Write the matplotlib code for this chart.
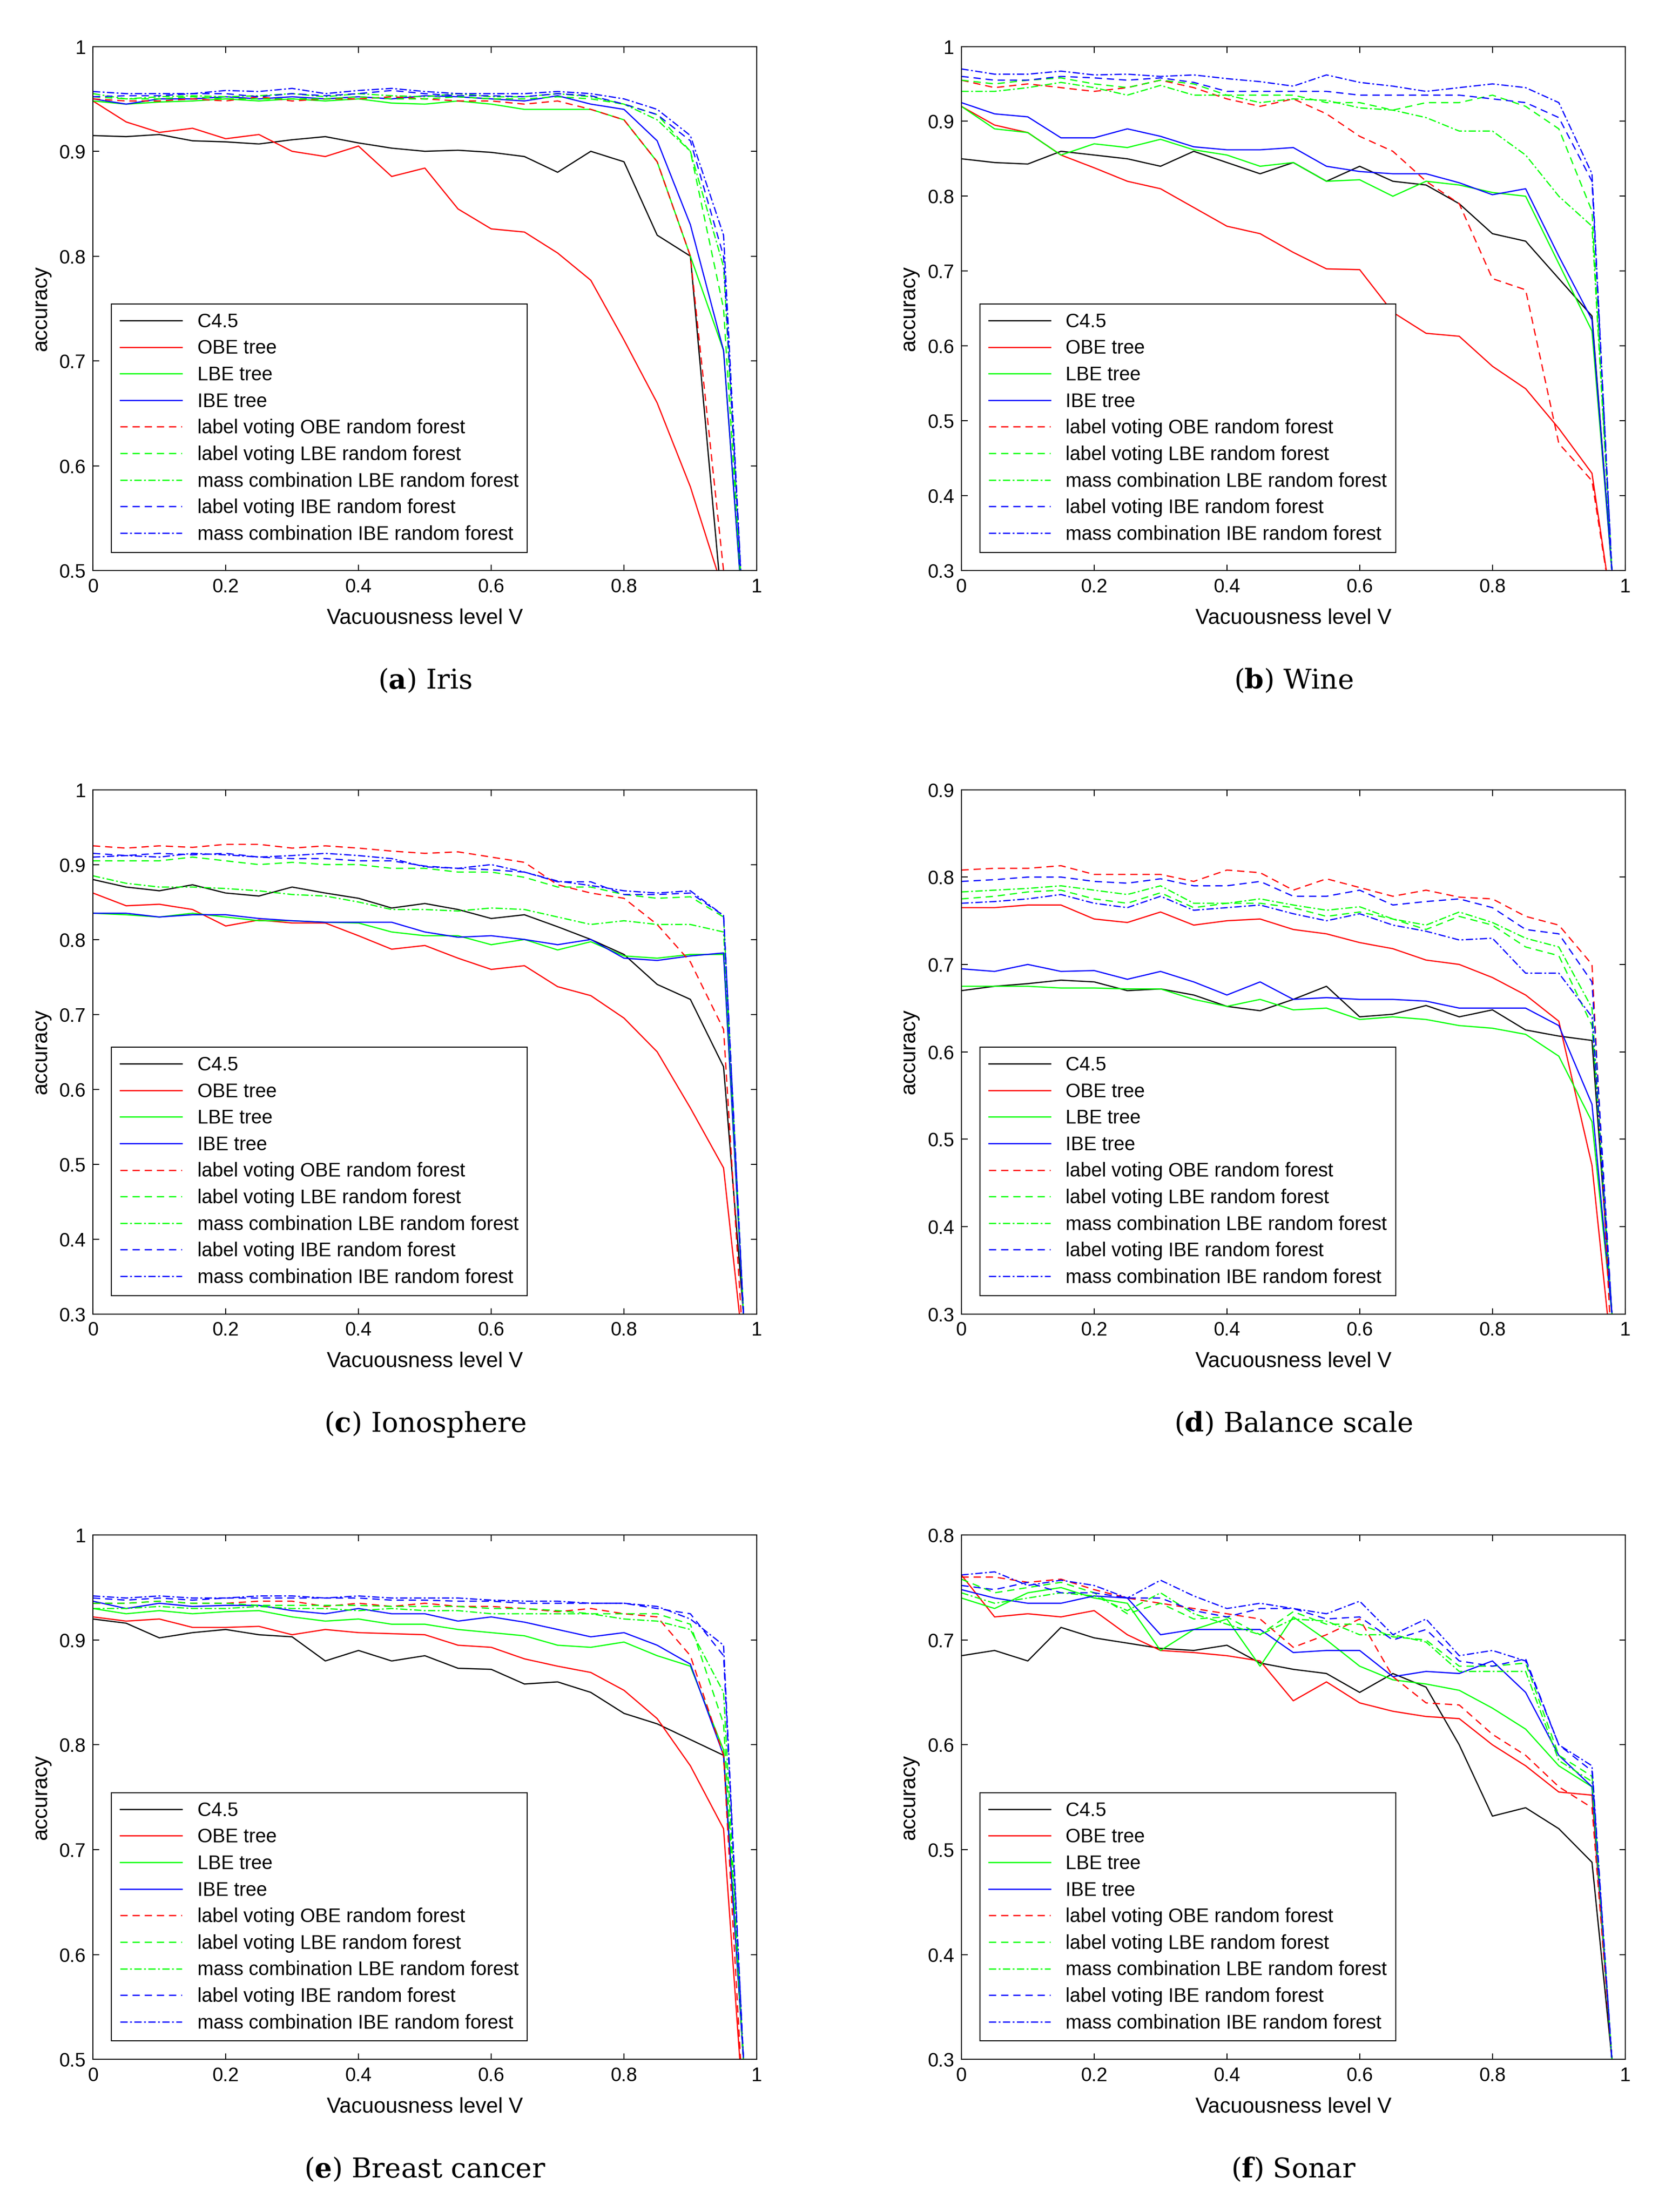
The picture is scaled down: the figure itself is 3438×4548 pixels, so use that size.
import numpy as np
import matplotlib
matplotlib.use("Agg")
import matplotlib.pyplot as plt
from matplotlib.ticker import FuncFormatter

plt.rcParams["font.family"] = "Liberation Sans"
plt.rcParams["mathtext.fontset"] = "dejavuserif"

x = [0, .05, .1, .15, .2, .25, .3, .35, .4, .45, .5, .55, .6, .65, .7, .75, .8, .85, .9, .95, .98]

labels = ["C4.5", "OBE tree", "LBE tree", "IBE tree", "label voting OBE random forest",
          "label voting LBE random forest", "mass combination LBE random forest",
          "label voting IBE random forest", "mass combination IBE random forest"]
colors = ["k", "r", "#00ff00", "b", "r", "#00ff00", "#00ff00", "b", "b"]
styles = ["-", "-", "-", "-", (0, (6, 4)), (0, (6, 4)), (0, (6, 2, 1.5, 2)), (0, (6, 4)), (0, (6, 2, 1.5, 2))]

iris = [
 [.915,.914,.916,.91,.909,.907,.911,.914,.908,.903,.9,.901,.899,.895,.88,.9,.89,.82,.80,.45,.3],
 [.948,.928,.918,.922,.912,.916,.9,.895,.905,.876,.884,.845,.826,.823,.803,.777,.72,.66,.58,.48,.3],
 [.948,.945,.947,.948,.95,.948,.95,.948,.95,.946,.945,.948,.945,.94,.94,.94,.93,.89,.80,.71,.45],
 [.95,.945,.95,.95,.952,.95,.952,.95,.952,.95,.953,.952,.95,.948,.953,.945,.94,.91,.83,.71,.45],
 [.95,.948,.948,.95,.948,.952,.948,.95,.95,.952,.95,.948,.948,.945,.948,.94,.93,.89,.80,.5,.3],
 [.952,.95,.95,.952,.95,.95,.95,.95,.952,.95,.95,.952,.95,.95,.952,.95,.945,.935,.90,.75,.45],
 [.955,.95,.952,.953,.952,.953,.955,.952,.955,.953,.952,.955,.952,.952,.955,.952,.945,.93,.90,.79,.45],
 [.952,.953,.953,.955,.955,.952,.955,.953,.955,.958,.955,.953,.953,.952,.955,.953,.945,.935,.91,.80,.45],
 [.957,.955,.955,.955,.958,.957,.96,.955,.958,.96,.957,.955,.955,.955,.957,.955,.95,.94,.915,.82,.45]]

wine = [
 [.85,.845,.843,.86,.855,.85,.84,.86,.845,.83,.845,.82,.84,.82,.815,.79,.75,.74,.69,.64,.3],
 [.92,.895,.885,.855,.838,.82,.81,.785,.76,.75,.725,.703,.702,.645,.617,.613,.573,.543,.49,.43,.25],
 [.92,.89,.885,.855,.87,.865,.876,.862,.855,.84,.845,.82,.822,.80,.82,.815,.805,.80,.71,.62,.3],
 [.925,.91,.906,.878,.878,.89,.88,.866,.862,.862,.865,.84,.833,.83,.83,.818,.802,.81,.72,.635,.3],
 [.955,.945,.95,.945,.94,.945,.955,.945,.93,.92,.93,.91,.88,.86,.82,.79,.69,.675,.47,.42,.25],
 [.955,.95,.955,.958,.95,.945,.955,.95,.935,.935,.935,.925,.925,.915,.925,.925,.935,.92,.89,.78,.3],
 [.94,.94,.945,.952,.945,.935,.948,.935,.935,.925,.93,.928,.918,.915,.905,.887,.887,.855,.80,.76,.3],
 [.96,.955,.955,.96,.958,.955,.958,.952,.94,.94,.94,.94,.935,.935,.935,.935,.93,.925,.905,.82,.3],
 [.97,.963,.963,.967,.962,.963,.96,.962,.957,.953,.947,.962,.952,.947,.94,.945,.95,.945,.925,.83,.3]]

iono = [
 [.88,.87,.865,.873,.862,.858,.87,.862,.855,.842,.848,.84,.828,.833,.817,.8,.78,.74,.72,.63,.3],
 [.862,.845,.847,.84,.818,.826,.822,.822,.805,.787,.792,.775,.76,.765,.737,.725,.695,.65,.575,.495,.25],
 [.835,.833,.83,.835,.83,.825,.825,.823,.822,.81,.805,.805,.793,.8,.786,.797,.778,.775,.78,.78,.3],
 [.835,.835,.83,.833,.833,.828,.825,.823,.823,.823,.81,.803,.805,.8,.793,.8,.775,.772,.778,.782,.3],
 [.925,.922,.925,.923,.927,.927,.922,.925,.922,.918,.915,.917,.91,.903,.873,.862,.855,.82,.77,.68,.25],
 [.905,.905,.905,.91,.905,.9,.903,.9,.9,.895,.895,.89,.89,.883,.87,.87,.86,.855,.857,.83,.3],
 [.885,.875,.87,.87,.868,.865,.86,.858,.85,.84,.84,.838,.842,.84,.83,.82,.825,.82,.82,.81,.3],
 [.915,.912,.915,.913,.915,.91,.908,.908,.905,.905,.898,.895,.893,.89,.877,.877,.86,.86,.862,.832,.3],
 [.91,.912,.91,.915,.913,.91,.912,.915,.912,.908,.897,.895,.9,.89,.878,.872,.865,.862,.865,.832,.3]]

balance = [
 [.67,.675,.678,.682,.68,.67,.672,.665,.652,.647,.66,.675,.64,.643,.653,.64,.648,.625,.618,.613,.3],
 [.765,.765,.768,.768,.752,.748,.76,.745,.75,.752,.74,.735,.725,.718,.705,.7,.685,.665,.635,.47,.25],
 [.675,.675,.675,.673,.673,.672,.672,.66,.652,.66,.648,.65,.637,.64,.637,.63,.627,.62,.595,.52,.3],
 [.695,.692,.7,.692,.693,.683,.692,.68,.665,.68,.66,.662,.66,.66,.658,.65,.65,.65,.63,.54,.3],
 [.808,.81,.81,.813,.803,.803,.803,.795,.808,.805,.785,.798,.788,.778,.785,.777,.775,.755,.745,.7,.25],
 [.775,.778,.783,.785,.775,.77,.782,.765,.77,.77,.765,.755,.76,.752,.74,.755,.745,.72,.71,.63,.3],
 [.783,.785,.787,.79,.785,.78,.79,.77,.77,.775,.768,.762,.766,.752,.745,.76,.748,.73,.72,.65,.3],
 [.795,.797,.8,.8,.795,.793,.798,.79,.79,.795,.778,.778,.785,.768,.772,.775,.765,.74,.735,.68,.3],
 [.77,.772,.775,.78,.77,.765,.778,.762,.765,.768,.758,.75,.758,.745,.738,.728,.73,.69,.69,.64,.3]]

breast = [
 [.92,.916,.902,.907,.91,.905,.903,.88,.89,.88,.885,.873,.872,.858,.86,.85,.83,.82,.805,.79,.5],
 [.922,.918,.92,.912,.912,.913,.905,.91,.907,.906,.905,.895,.893,.882,.875,.869,.852,.825,.78,.72,.45],
 [.93,.925,.928,.925,.927,.928,.922,.918,.92,.915,.915,.91,.907,.904,.895,.893,.898,.885,.875,.795,.5],
 [.937,.93,.935,.932,.933,.933,.928,.925,.93,.925,.925,.918,.922,.917,.91,.903,.907,.895,.877,.79,.5],
 [.935,.935,.937,.935,.935,.937,.937,.932,.935,.932,.935,.932,.932,.93,.927,.93,.925,.922,.885,.79,.45],
 [.935,.935,.937,.935,.935,.933,.933,.933,.933,.932,.932,.932,.93,.93,.928,.925,.925,.925,.915,.82,.5],
 [.93,.93,.932,.93,.93,.932,.93,.93,.928,.93,.928,.928,.925,.925,.925,.925,.92,.918,.91,.85,.5],
 [.94,.938,.94,.938,.94,.94,.94,.94,.94,.938,.938,.937,.937,.935,.935,.935,.935,.93,.925,.885,.5],
 [.942,.94,.942,.94,.94,.942,.942,.94,.942,.94,.94,.94,.938,.937,.937,.935,.935,.932,.92,.895,.5]]

sonar = [
 [.685,.69,.68,.712,.702,.697,.692,.69,.695,.678,.672,.668,.65,.668,.655,.6,.532,.54,.52,.488,.3],
 [.762,.722,.725,.722,.728,.705,.69,.688,.685,.68,.642,.66,.64,.632,.627,.625,.6,.58,.555,.552,.3],
 [.74,.73,.745,.75,.74,.735,.69,.71,.72,.675,.722,.7,.675,.662,.658,.652,.635,.615,.58,.56,.3],
 [.748,.74,.735,.735,.742,.74,.705,.71,.71,.71,.688,.69,.69,.665,.67,.668,.68,.65,.59,.56,.3],
 [.76,.76,.755,.758,.748,.74,.735,.73,.725,.72,.693,.705,.72,.665,.64,.638,.61,.59,.56,.54,.3],
 [.758,.745,.75,.755,.745,.725,.735,.72,.722,.705,.727,.715,.715,.703,.7,.675,.675,.678,.59,.57,.3],
 [.745,.735,.74,.745,.742,.728,.745,.725,.715,.705,.72,.718,.705,.705,.698,.67,.67,.67,.585,.565,.3],
 [.752,.748,.755,.745,.745,.74,.74,.728,.722,.73,.73,.72,.722,.7,.71,.68,.675,.682,.6,.575,.3],
 [.762,.765,.752,.757,.752,.74,.757,.742,.73,.735,.73,.725,.737,.705,.72,.685,.69,.68,.6,.58,.3]]

panels = [("a", "Iris", iris, (0.5, 1.0)),
          ("b", "Wine", wine, (0.3, 1.0)),
          ("c", "Ionosphere", iono, (0.3, 1.0)),
          ("d", "Balance scale", balance, (0.3, 0.9)),
          ("e", "Breast cancer", breast, (0.5, 1.0)),
          ("f", "Sonar", sonar, (0.3, 0.8))]

fig = plt.figure(figsize=(3438/300, 4548/300), dpi=300)
lefts = [0.0556, 0.575]
bottoms = [0.742, 0.406, 0.069]
W, H = 0.397, 0.237
fmt = FuncFormatter(lambda v, p: "%g" % round(v, 2))

for i, (letter, name, data, yl) in enumerate(panels):
    l = lefts[i % 2]; b = bottoms[i // 2]
    ax = fig.add_axes([l, b, W, H])
    for s, c, ls, lab in zip(data, colors, styles, labels):
        ax.plot(x, s, color=c, linestyle=ls, lw=0.6, label=lab)
    ax.set_xlim(0, 1)
    ax.set_ylim(*yl)
    ax.set_xticks(np.arange(0, 1.01, 0.2))
    ax.set_yticks(np.arange(yl[0], yl[1] + 1e-6, 0.1))
    ax.xaxis.set_major_formatter(fmt); ax.yaxis.set_major_formatter(fmt)
    ax.tick_params(direction="in", top=True, right=True, labelsize=9.5, width=0.5, length=3)
    for sp in ax.spines.values():
        sp.set_linewidth(0.5)
    ax.set_xlabel("Vacuousness level V", fontsize=10.5, labelpad=6)
    ax.set_ylabel("accuracy", fontsize=10.5)
    leg = ax.legend(loc="lower left", bbox_to_anchor=(0.028, 0.035), fontsize=9.5,
                    handlelength=3.2, labelspacing=0.42, borderpad=0.45,
                    fancybox=False, framealpha=1, edgecolor="k", borderaxespad=0)
    leg.get_frame().set_linewidth(0.5)
    fig.text(l + W / 2, b - 0.05, r"($\mathbf{%s}$) %s" % (letter, name),
             ha="center", va="center", fontsize=13.5, family="DejaVu Serif")

fig.savefig("out.png", dpi=300)
